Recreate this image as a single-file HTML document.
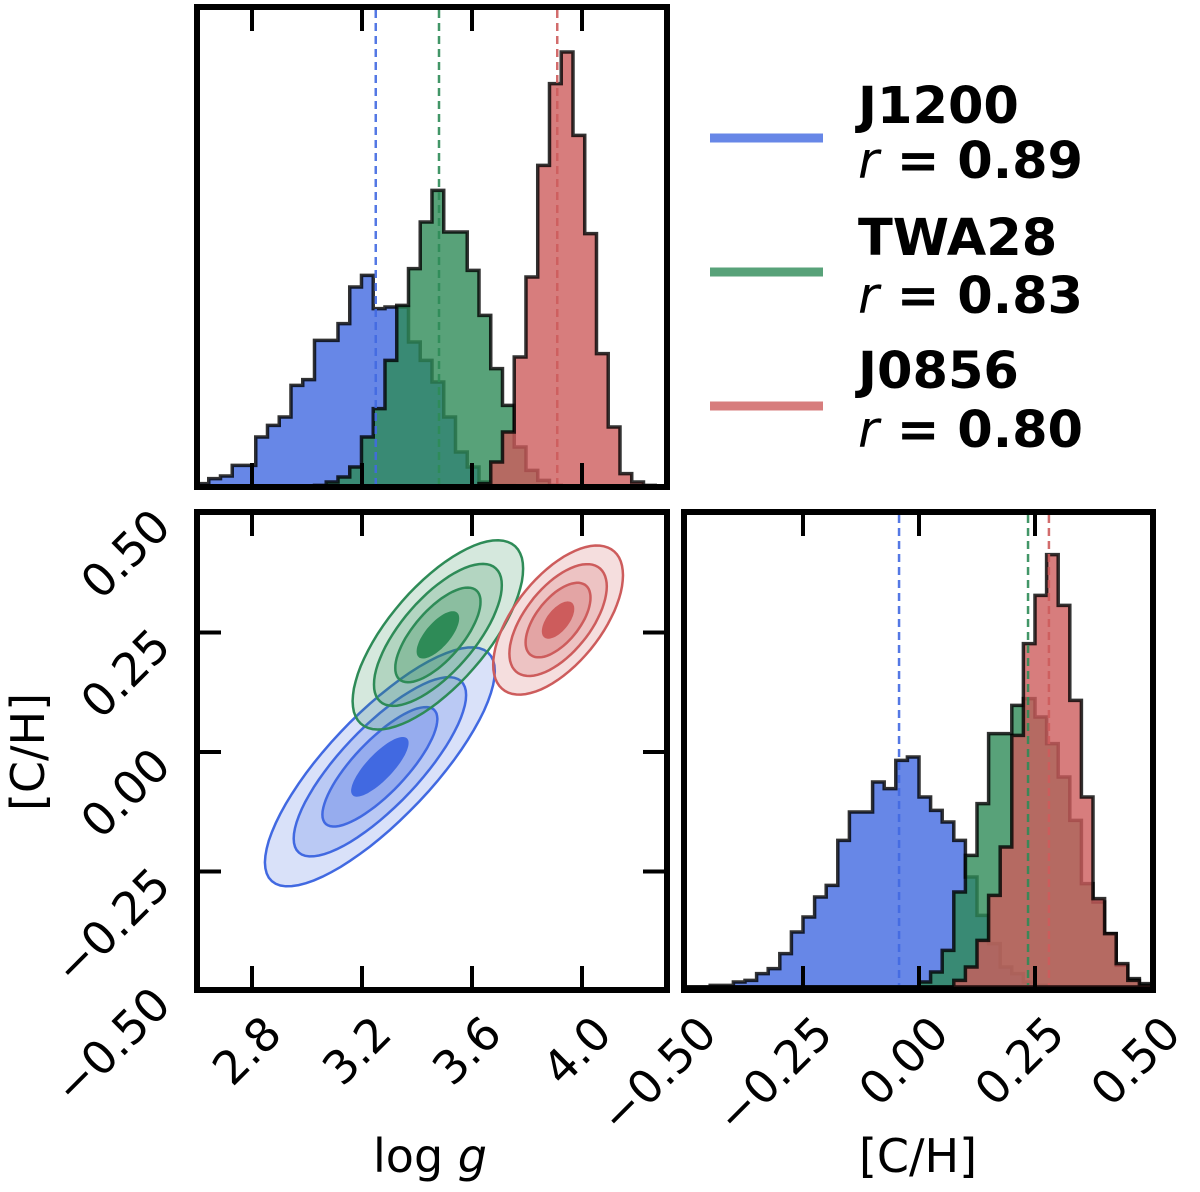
<!DOCTYPE html>
<html><head><meta charset="utf-8">
<style>
html,body{margin:0;padding:0;background:#fff;}
svg{display:block;font-family:"DejaVu Sans","Liberation Sans",sans-serif;}
</style></head>
<body>
<svg id="fig" width="1200" height="1192" viewBox="0 0 1200 1192" xmlns="http://www.w3.org/2000/svg">
<g id="layer-hist-top"></g>
<g id="layer-contour"></g>
<g id="layer-hist-ch"></g>
<g id="layer-axes"></g>
<g id="legend">
  <line x1="710" y1="138" x2="823" y2="138" stroke="#4169e1" stroke-opacity="0.8" stroke-width="9"/>
  <line x1="710" y1="272" x2="823" y2="272" stroke="#2e8b57" stroke-opacity="0.8" stroke-width="9"/>
  <line x1="710" y1="406" x2="823" y2="406" stroke="#cd5c5c" stroke-opacity="0.8" stroke-width="9"/>
  <text x="858" y="123" font-size="51" font-weight="bold">J1200</text>
  <text x="858" y="178" font-size="51" font-weight="bold"><tspan font-style="italic" font-weight="normal">r</tspan> = 0.89</text>
  <text x="858" y="255" font-size="51" font-weight="bold">TWA28</text>
  <text x="858" y="313" font-size="51" font-weight="bold"><tspan font-style="italic" font-weight="normal">r</tspan> = 0.83</text>
  <text x="858" y="388" font-size="51" font-weight="bold">J0856</text>
  <text x="858" y="447" font-size="51" font-weight="bold"><tspan font-style="italic" font-weight="normal">r</tspan> = 0.80</text>
</g>
</svg>
<script>
// ---- data ----
const seriesNames = ["J1200","TWA28","J0856"];
const seriesColors = ["#4169e1","#2e8b57","#cd5c5c"];
const loggRange = [2.6, 4.309];
const chRange = [-0.5, 0.5];
const loggHistJ1200 = [10,25,33,65,65,150,185,210,305,322,440,440,490,600,635,535,540,540,435,380,315,210,105,60,15,5,5,3,2,0,0,0,0,0,0,0,0,0,0,0];
const loggHistTWA28 = [0,0,0,0,0,0,0,0,0,0,5,15,30,60,150,235,380,545,655,795,890,765,765,650,515,355,245,120,50,20,5,0,0,0,0,0,0,0,0,0];
const loggHistJ0856 = [0,0,0,0,0,0,0,0,0,0,0,0,0,0,0,0,0,0,0,0,0,0,0,0,10,75,165,390,630,965,1210,1305,1055,760,400,180,40,15,5,0];
const chHistJ1200 = [0,0,5,5,15,20,40,55,100,165,210,270,305,440,525,525,615,595,680,690,570,530,495,440,330,215,130,60,40,15,5,0,0,0,0,0,0,0,0,0];
const chHistTWA28 = [0,0,0,0,0,0,0,0,0,0,0,0,0,0,0,0,0,0,0,0,15,45,110,285,395,550,760,760,845,865,810,730,630,500,310,255,160,65,25,10];
const chHistJ0856 = [0,0,0,0,0,0,0,0,0,0,0,0,0,0,0,0,0,0,0,0,0,0,0,20,60,140,275,420,755,1030,1175,1297,1145,860,570,265,160,70,20,5];
const loggMedians = [3.25, 3.48, 3.91];
const chMedians = [-0.043, 0.235, 0.280];
const loggMeans = [3.265, 3.476, 3.913];
const chMeans = [-0.031, 0.245, 0.276];
const loggSigma = [0.209, 0.155, 0.118];
const chSigma = [0.125, 0.099, 0.078];
const contourCorr = [0.80, 0.70, 0.60];
const sigmaLevels = [2, 1.5, 1, 0.5];
const loggTicks = [2.8, 3.2, 3.6, 4.0];
const loggTickLabels = ["2.8","3.2","3.6","4.0"];
const chTicks = [-0.5, -0.25, 0, 0.25, 0.5];
const chTickLabels = ["\u22120.50","\u22120.25","0.00","0.25","0.50"];

// ---- axes functions ----
const xLogg = v => 197 + (v - 2.6) * 275;
const yTopHist = c => 487 - c / 3;
const yCH = v => 752 - v * 478;
const xCH = v => 919 + v * 464;
const yBRHist = c => 987 - c / 3;

const NS = "http://www.w3.org/2000/svg";
function mk(tag, attrs, parent){ const e=document.createElementNS(NS,tag); for(const k in attrs) e.setAttribute(k,attrs[k]); parent.appendChild(e); return e; }

function stepPath(counts, lo, hi, xf, yf){
  const w=(hi-lo)/counts.length; let d="M"+xf(lo)+","+yf(0);
  counts.forEach((c,i)=>{ d+=" L"+xf(lo+i*w)+","+yf(c)+" L"+xf(lo+(i+1)*w)+","+yf(c); });
  d+=" L"+xf(hi)+","+yf(0)+" Z"; return d;
}

const gTop=document.getElementById("layer-hist-top");
const gCon=document.getElementById("layer-contour");
const gBR=document.getElementById("layer-hist-ch");
const gAx=document.getElementById("layer-axes");

const topHists=[loggHistJ1200,loggHistTWA28,loggHistJ0856];
const brHists=[chHistJ1200,chHistTWA28,chHistJ0856];

topHists.forEach((h,s)=>{
  const p=mk("path",{d:stepPath(h,loggRange[0],loggRange[1],xLogg,yTopHist),fill:seriesColors[s],"fill-opacity":0.8,stroke:"#000","stroke-opacity":0.8,"stroke-width":3.5},gTop);
  
  
});
loggMedians.forEach((m,s)=>{
  const l=mk("line",{x1:xLogg(m),x2:xLogg(m),y1:10,y2:485,stroke:seriesColors[s],"stroke-width":2.5,"stroke-dasharray":"8,5","stroke-opacity":0.9},gTop);
  
  
});
brHists.forEach((h,s)=>{
  const p=mk("path",{d:stepPath(h,chRange[0],chRange[1],xCH,yBRHist),fill:seriesColors[s],"fill-opacity":0.8,stroke:"#000","stroke-opacity":0.8,"stroke-width":3.5},gBR);
  
  
});
chMedians.forEach((m,s)=>{
  const l=mk("line",{x1:xCH(m),x2:xCH(m),y1:515,y2:985,stroke:seriesColors[s],"stroke-width":2.5,"stroke-dasharray":"8,5","stroke-opacity":0.9},gBR);
  
  
});

// contours
const layerOp=[0.2,0.2,0.3,1.0];
seriesNames.forEach((nm,s)=>{
  sigmaLevels.forEach((k,li)=>{
    let d=""; const r=contourCorr[s], q=Math.sqrt(1-r*r);
    for(let i=0;i<=72;i++){
      const t=i/72*2*Math.PI;
      const vx=loggMeans[s]+k*loggSigma[s]*Math.cos(t);
      const vy=chMeans[s]+k*chSigma[s]*(r*Math.cos(t)+q*Math.sin(t));
      d+=(i?" L":"M")+xLogg(vx).toFixed(1)+","+yCH(vy).toFixed(1);
    }
    const attrs={d:d+" Z",fill:seriesColors[s],"fill-opacity":layerOp[li]};
    if(li<3){attrs.stroke=seriesColors[s];attrs["stroke-width"]=2.5;}
    const p=mk("path",attrs,gCon);
    
    
  });
});

// frames
[[197,7,470,480],[197,512,470,478],[684,512,469,478]].forEach((f,i)=>{
  const r=mk("rect",{x:f[0],y:f[1],width:f[2],height:f[3],fill:"none",stroke:"#000","stroke-width":6},gAx);
  
  
});
// ticks
const tl=22;
loggTicks.forEach(v=>{
  const x=xLogg(v);
  [[9,9+tl],[485,485-tl],[514,514+tl],[988,988-tl]].forEach(yy=>{
    const l=mk("line",{x1:x,x2:x,y1:yy[0],y2:yy[1],stroke:"#000","stroke-width":4},gAx);
    
    
  });
});
chTicks.slice(1,4).forEach(v=>{
  const y=yCH(v);
  [[199,199+tl],[665,665-tl]].forEach(xx=>{
    const l=mk("line",{x1:xx[0],x2:xx[1],y1:y,y2:y,stroke:"#000","stroke-width":4},gAx);
    
    
  });
  const x=xCH(v);
  [[514,514+tl],[988,988-tl]].forEach(yy=>{
    const l=mk("line",{x1:x,x2:x,y1:yy[0],y2:yy[1],stroke:"#000","stroke-width":4},gAx);
    
    
  });
});
// tick labels
function rotLabel(txt,ex,ey,name){
  const t=mk("text",{x:ex,y:ey,"font-size":46,"text-anchor":"end",transform:"rotate(-45 "+ex+" "+ey+")"},gAx);
  t.textContent=txt;
  
  
}
loggTicks.forEach((v,i)=>rotLabel(loggTickLabels[i],xLogg(v)+32,1036,'logg-tick-label'));
chTicks.forEach((v,i)=>rotLabel(chTickLabels[i],173,yCH(v)+16,'ch-y-tick-label'));
chTicks.forEach((v,i)=>rotLabel(chTickLabels[i],xCH(v)+32,1036,'ch-x-tick-label'));

// axis titles
let t=mk("text",{x:430,y:1172,"font-size":46,"text-anchor":"middle"},gAx);
t.innerHTML='log <tspan font-style="italic">g</tspan>';


t=mk("text",{x:918,y:1172,"font-size":46,"text-anchor":"middle"},gAx);
t.textContent='[C/H]';


t=mk("text",{x:44,y:752,"font-size":46,"text-anchor":"middle",transform:"rotate(-90 44 752)"},gAx);
t.textContent='[C/H]';


</script>
</body></html>
